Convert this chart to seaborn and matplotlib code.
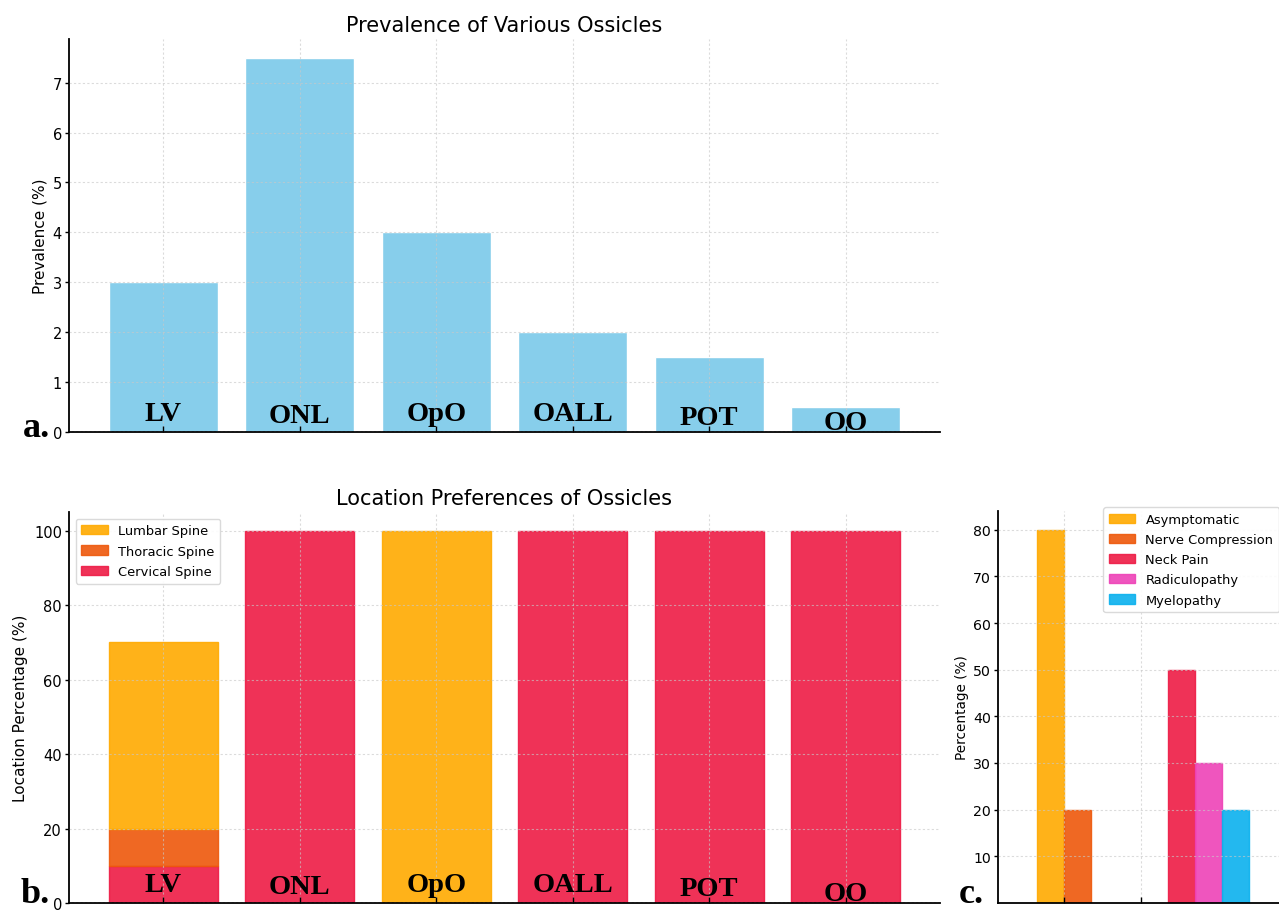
import matplotlib
matplotlib.use("Agg")
import matplotlib.pyplot as plt
import seaborn as sns

# ---- data ---------------------------------------------------------------
ossicles = ["LV", "ONL", "OpO", "OALL", "POT", "OO"]
prevalence = [3.0, 7.5, 4.0, 2.0, 1.5, 0.5]

# location share (%) per ossicle, stacked bottom -> top
cervical = [10, 100, 0, 100, 100, 100]
thoracic = [10, 0, 0, 0, 0, 0]
lumbar = [50, 0, 100, 0, 0, 0]

# clinical presentation (%) for the two symptom groups
symptoms = ["Asymptomatic", "Nerve Compression", "Neck Pain", "Radiculopathy", "Myelopathy"]
asymptomatic = [80, 0]
nerve_compression = [20, 0]
neck_pain = [0, 50]
radiculopathy = [0, 30]
myelopathy = [0, 20]

# ---- style --------------------------------------------------------------
sns.set_style("white")
plt.rcParams["font.family"] = ["DejaVu Sans"]
for key in ("text.color", "axes.labelcolor", "xtick.color", "ytick.color"):
    plt.rcParams[key] = "black"

SKY = "#87CEEB"
C_LUMBAR = "#FFAA00"
C_THORACIC = "#EE580B"
C_CERVICAL = "#EE1B45"
C_RADIC = "#EE42B7"
C_MYELO = "#0BB1EE"
BAR_ALPHA = 0.9

W, H = 1279, 912
fig = plt.figure(figsize=(W / 100, H / 100), dpi=100)


def px_axes(left, top, right, bottom):
    return fig.add_axes([left / W, (H - bottom) / H, (right - left) / W, (bottom - top) / H])


def style_axes(ax):
    for s in ("top", "right"):
        ax.spines[s].set_visible(False)
    for s in ("left", "bottom"):
        ax.spines[s].set_color("black")
        ax.spines[s].set_linewidth(1.3)
    ax.set_axisbelow(False)
    ax.grid(True, linestyle=(0, (2, 2)), color="#c8c8c8", linewidth=0.8, alpha=0.65)
    ax.tick_params(axis="y", direction="out", length=3, width=1, labelsize=10.5,
                   pad=2, colors="black", left=True)
    ax.tick_params(axis="x", direction="in", length=4, width=1, bottom=True,
                   labelbottom=False)
    ax.set_xlabel("")


bold_serif = dict(fontfamily=["Liberation Serif", "DejaVu Serif"], fontweight="bold")
label_lift = [8.5, 7, 8.5, 8.5, 5.5, 2.5]  # points above the baseline

legend_style = dict(fontsize=9.4, labelspacing=0.55, frameon=True, fancybox=True,
                    edgecolor="#d6d6d6", framealpha=0.9, borderpad=0.45,
                    handletextpad=0.8)


def name_bars(ax):
    for i, (name, lift) in enumerate(zip(ossicles, label_lift)):
        ax.annotate(name, xy=(i, 0), xycoords="data", xytext=(0, lift),
                    textcoords="offset points", ha="center", va="baseline",
                    fontsize=20.5, color="black", **bold_serif)


# ---- a. prevalence ------------------------------------------------------
ax_a = px_axes(69, 40, 940, 433)
sns.barplot(x=ossicles, y=prevalence, color=SKY, saturation=1, width=0.8,
            errorbar=None, ax=ax_a)
style_axes(ax_a)
ax_a.set_xlim(-0.69, 5.69)
ax_a.set_ylim(0, 7.875)
ax_a.set_yticks(range(0, 8))
ax_a.set_xticks(range(len(ossicles)))
ax_a.set_ylabel("Prevalence (%)", fontsize=11)
ax_a.set_title("Prevalence of Various Ossicles", fontsize=15, pad=5.5)
name_bars(ax_a)

# ---- b. location preferences (stacked) ----------------------------------
ax_b = px_axes(69, 513, 940, 904)
base_thor = [c for c in cervical]
base_lumb = [c + t for c, t in zip(cervical, thoracic)]
common = dict(saturation=1, width=0.8, errorbar=None, ax=ax_b, alpha=BAR_ALPHA, linewidth=1)
sns.barplot(x=ossicles, y=cervical, color=C_CERVICAL, edgecolor=C_CERVICAL,
            label="Cervical Spine", **common)
sns.barplot(x=ossicles, y=thoracic, bottom=base_thor, color=C_THORACIC,
            edgecolor=C_THORACIC, label="Thoracic Spine", **common)
sns.barplot(x=ossicles, y=lumbar, bottom=base_lumb, color=C_LUMBAR,
            edgecolor=C_LUMBAR, label="Lumbar Spine", **common)
# empty stack segments should leave no outline behind
for patch in ax_b.patches:
    if patch.get_height() == 0:
        patch.set_linewidth(0)
style_axes(ax_b)
ax_b.set_xlim(-0.69, 5.69)
ax_b.set_ylim(0, 105)
ax_b.set_yticks(range(0, 101, 20))
ax_b.set_xticks(range(len(ossicles)))
ax_b.set_ylabel("Location Percentage (%)", fontsize=11)
ax_b.set_title("Location Preferences of Ossicles", fontsize=15, pad=5.5)
handles, labels = ax_b.get_legend_handles_labels()
ax_b.legend(handles[::-1], labels[::-1], loc="upper left", **legend_style)
name_bars(ax_b)

# ---- c. clinical presentation (grouped) ---------------------------------
ax_c = px_axes(998, 512, 1290, 904)
groups = list(range(len(asymptomatic)))
bar_w = 0.35
series = [asymptomatic, nerve_compression, neck_pain, radiculopathy, myelopathy]
colors = [C_LUMBAR, C_THORACIC, C_CERVICAL, C_RADIC, C_MYELO]
for k, (name, vals, col) in enumerate(zip(symptoms, series, colors)):
    xs = [g + (k - 0.5) * bar_w for g, v in zip(groups, vals) if v > 0]
    hs = [v for v in vals if v > 0]
    ax_c.bar(xs, hs, width=bar_w, color=col, edgecolor=col, linewidth=1,
             alpha=BAR_ALPHA, label=name)
style_axes(ax_c)
ax_c.tick_params(axis="y", labelsize=10.2)
ax_c.set_xlim(-0.857, 2.935)
ax_c.set_ylim(0, 84)
ax_c.set_yticks(range(10, 81, 10))
ax_c.set_xticks(groups)
ax_c.set_ylabel("Percentage (%)", fontsize=9.8, labelpad=3)
ax_c.legend(loc="upper left", bbox_to_anchor=((1103 - 998) / 292, (904 - 508) / 392),
            borderaxespad=0, **legend_style)

# ---- panel letters ------------------------------------------------------
for letter, x, y in (("a.", 23, 437), ("b.", 21, 903), ("c.", 959, 903)):
    fig.text(x / W, 1 - y / H, letter, ha="left", va="baseline", fontsize=26,
             color="black", **bold_serif)

fig.savefig("out.png", dpi=100)
